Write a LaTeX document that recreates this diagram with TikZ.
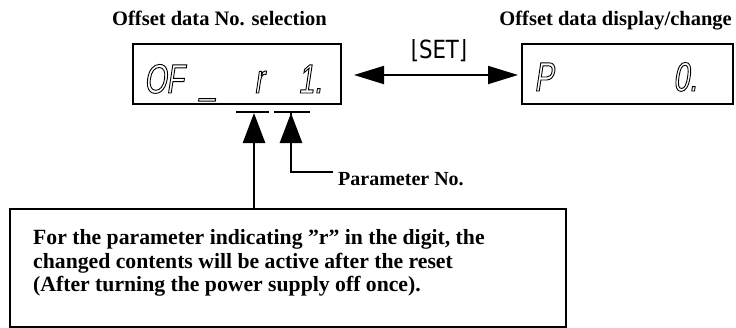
\documentclass[tikz,border=0pt]{standalone}
\usepackage{fontspec}
\setmainfont{Liberation Serif}
\newfontfamily\segfont[FakeSlant=0.15,FakeStretch=0.7]{Liberation Sans}
\newfontfamily\symfont[FakeStretch=0.85]{DejaVu Sans}
\newcommand\outlined[1]{\special{pdf:literal direct q 1 Tr 0.9 w}#1\special{pdf:literal direct Q}}
\usetikzlibrary{arrows.meta}
\begin{document}
\begin{tikzpicture}[x=1pt,y=-1pt,
  title/.style={font=\bfseries\fontsize{20.5}{22}\selectfont, inner sep=0pt},
  lcd/.style={draw, line width=2.2pt},
  seg/.style={font=\segfont\fontsize{41}{41}\selectfont, inner sep=0pt, anchor=base west},
  uparrow/.style={line width=2.6pt, -{Triangle[length=30pt,width=22pt]}},
  setarrow/.style={line width=2pt, {Triangle[length=30pt,width=18pt]}-{Triangle[length=30pt,width=18pt]}},
  digitmark/.style={line width=2.4pt},
  note/.style={draw, line width=1.8pt, align=left, inner sep=0pt}]
\useasboundingbox (0,0) rectangle (736,327);
% titles
\node[title, anchor=base west] (t1) at (112,25) {Offset data No. selection};
\node[title, anchor=base east] (t2) at (732,25) {Offset data display/change};
% display boxes
\draw[lcd] (133,44) rectangle (341,104);
\draw[lcd] (522,44) rectangle (733,104);
\node[seg] (d1) at (144,93) {\outlined{O}};
\node[seg] (d2) at (166,93) {\outlined{F}};
\node[seg] (d3) at (200,93) {\outlined{\_}};
\node[seg] (d4) at (254,93) {\outlined{r}};
\node[seg] (d5) at (298,93) {\outlined{1.}};
\node[seg] (d6) at (534,91) {\outlined{P}};
\node[seg] (d7) at (673,91) {\outlined{0.}};
% SET arrow
\coordinate (la) at (354,75);
\coordinate (ra) at (518,75);
\draw[setarrow] (la) -- (ra);
\node[font=\symfont\fontsize{25}{27}\selectfont, inner sep=0pt] (set) at (439,51) {⌊SET⌋};
% digit marks
\draw[digitmark] (236,112) -- (269,112);
\draw[digitmark] (274,112) -- (310,112);
\coordinate (tip1) at (254,113);
\coordinate (tip2) at (291,113);
\coordinate (bend) at (291,172);
\coordinate (pend) at (333,172);
% note box
\node[note, minimum width=556pt, minimum height=118pt, anchor=north west] (note) at (9,208) {};
\node[font=\bfseries\fontsize{21.7}{23.5}\selectfont, align=left, anchor=west, inner sep=0pt] (notetext) at (33,263)
  {For the parameter indicating "r" in the digit, the\\changed contents will be active after the reset\\(After turning the power supply off once).};
\draw[uparrow] (note.north -| tip1) -- (tip1);
\draw[line width=2.6pt] (pend) -- (bend) -- (tip2);
\draw[uparrow] (bend) -- (tip2);
\node[font=\bfseries\fontsize{20}{22}\selectfont, anchor=base west, inner sep=0pt] (pno) at (338,185) {Parameter No.};
\end{tikzpicture}
\end{document}
